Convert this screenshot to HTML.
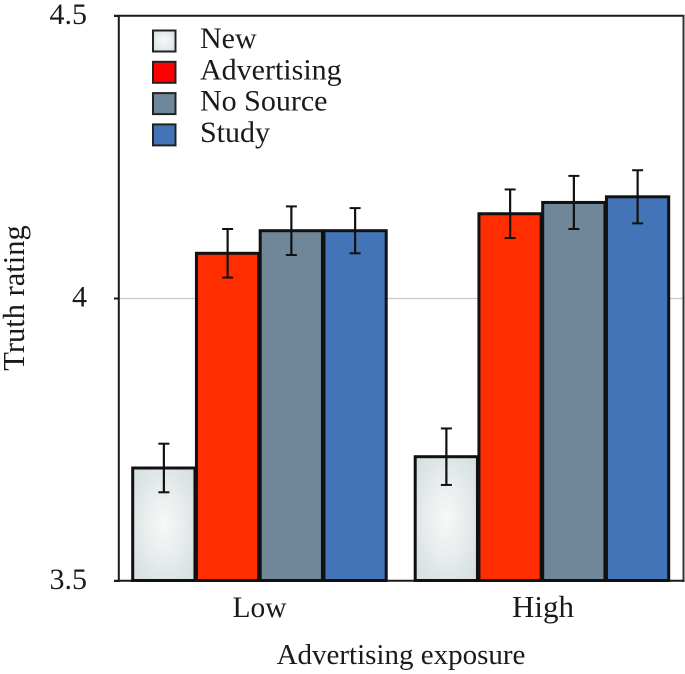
<!DOCTYPE html>
<html>
<head>
<meta charset="utf-8">
<title>Truth rating by advertising exposure</title>
<style>
html,body{margin:0;padding:0;background:#fff;width:685px;height:674px;overflow:hidden}
svg{display:block}
text{font-family:"Liberation Serif",serif;fill:#1a1a1a}
</style>
</head>
<body>
<svg id="chart" width="685" height="674" viewBox="0 0 685 674" xmlns="http://www.w3.org/2000/svg">
<defs>
<radialGradient id="newFill" cx="50%" cy="50%" r="62%">
<stop offset="0" stop-color="#f8f9f8"/>
<stop offset="1" stop-color="#d8e0e2"/>
</radialGradient>
</defs>
</svg>
<script>
const categories = ['Low', 'High'];
const seriesNames = ['New', 'Advertising', 'No Source', 'Study'];
const newValues = [3.70, 3.72];
const advertisingValues = [4.08, 4.15];
const noSourceValues = [4.12, 4.17];
const studyValues = [4.12, 4.18];
const newErrors = [0.043, 0.050];
const advertisingErrors = [0.043, 0.043];
const noSourceErrors = [0.043, 0.047];
const studyErrors = [0.040, 0.047];
const yTickLabels = ['3.5', '4', '4.5'];
const yTickValues = [3.5, 4, 4.5];

const seriesValues = [newValues, advertisingValues, noSourceValues, studyValues];
const seriesErrors = [newErrors, advertisingErrors, noSourceErrors, studyErrors];
const seriesFills = ['url(#newFill)', '#ff2d00', '#6f8799', '#4374b7'];
const legendFills = ['url(#newFill)', '#ff0000', '#6f8799', '#4374b7'];
const seriesSlugs = ['new', 'advertising', 'no-source', 'study'];

const svg = document.getElementById('chart');
const NS = 'http://www.w3.org/2000/svg';
const yScale = function (v) { return 581 - (v - 3.5) * 565; };
const groupCenter = function (i) { return 259.5 + i * 282.5; };
const BAR_W = 63.75;
const barLeft = function (g, s) { return groupCenter(g) + (s - 2) * BAR_W; };

function add(tag, attrs, text) {
  const el = document.createElementNS(NS, tag);
  for (const k in attrs) el.setAttribute(k, attrs[k]);
  if (text !== undefined) el.textContent = text;
  svg.appendChild(el);
  return el;
}

// gridline at 4
const grid = add('line', {x1: 118, x2: 683, y1: yScale(4), y2: yScale(4), stroke: '#c8c8c8', 'stroke-width': 1.2});



// frame
const leftAxis = add('line', {x1: 118.8, x2: 118.8, y1: 15, y2: 582, stroke: '#1a1a1a', 'stroke-width': 2});


const topAxis = add('line', {x1: 114, x2: 684.5, y1: 15.8, y2: 15.8, stroke: '#1a1a1a', 'stroke-width': 2});


const rightAxis = add('line', {x1: 683.5, x2: 683.5, y1: 15, y2: 582, stroke: '#333', 'stroke-width': 2});


const bottomAxis = add('line', {x1: 114, x2: 684.5, y1: 580.8, y2: 580.8, stroke: '#1a1a1a', 'stroke-width': 2});



// y ticks
yTickValues.forEach(function (v, i) {
  const tick = add('line', {x1: 114, x2: 119, y1: yScale(v), y2: yScale(v), stroke: '#1a1a1a', 'stroke-width': 2});
  
  
  const label = add('text', {x: 87, y: yScale(v) + 8, 'text-anchor': 'end', 'font-size': 30}, yTickLabels[i]);
  
  
});

// bars
categories.forEach(function (cat, g) {
  seriesValues.forEach(function (vals, s) {
    const top = yScale(vals[g]);
    const x = barLeft(g, s);
    const bar = add('rect', {x: x + 0.7, y: top, width: BAR_W - 1.5, height: 580.5 - top, fill: seriesFills[s], stroke: '#111', 'stroke-width': 3});
    
    
  });
});

// error bars
categories.forEach(function (cat, g) {
  seriesValues.forEach(function (vals, s) {
    const cx = barLeft(g, s) + BAR_W / 2;
    const hi = yScale(vals[g] + seriesErrors[s][g]);
    const lo = yScale(vals[g] - seriesErrors[s][g]);
    const stem = add('line', {x1: cx, x2: cx, y1: hi, y2: lo, stroke: '#111', 'stroke-width': 2.2});
    
    
    const capTop = add('line', {x1: cx - 5.5, x2: cx + 5.5, y1: hi, y2: hi, stroke: '#111', 'stroke-width': 2});
    
    
    const capBottom = add('line', {x1: cx - 5.5, x2: cx + 5.5, y1: lo, y2: lo, stroke: '#111', 'stroke-width': 2});
    
    
  });
  const catLabel = add('text', {x: groupCenter(g) + (g === 0 ? 0 : 1), y: 617, 'text-anchor': 'middle', 'font-size': g === 0 ? 29.5 : 31}, cat);
  
  
});

// legend
const legendRowY = function (i) { return 41 + i * 31.3; };
seriesNames.forEach(function (name, i) {
  const cy = legendRowY(i);
  const swatch = add('rect', {x: 153, y: cy - 10.5, width: 22.5, height: 21, fill: legendFills[i], stroke: '#222', 'stroke-width': 2});
  
  
  const label = add('text', {x: 200, y: cy + 7, 'font-size': 30}, name);
  
  
});

// axis titles
const xTitle = add('text', {x: 401, y: 664, 'text-anchor': 'middle', 'font-size': 29}, 'Advertising exposure');


const yTitle = add('text', {x: 0, y: 0, 'text-anchor': 'middle', 'font-size': 30.5, transform: 'translate(24 298) rotate(-90)'}, 'Truth rating');


</script>
</body>
</html>
